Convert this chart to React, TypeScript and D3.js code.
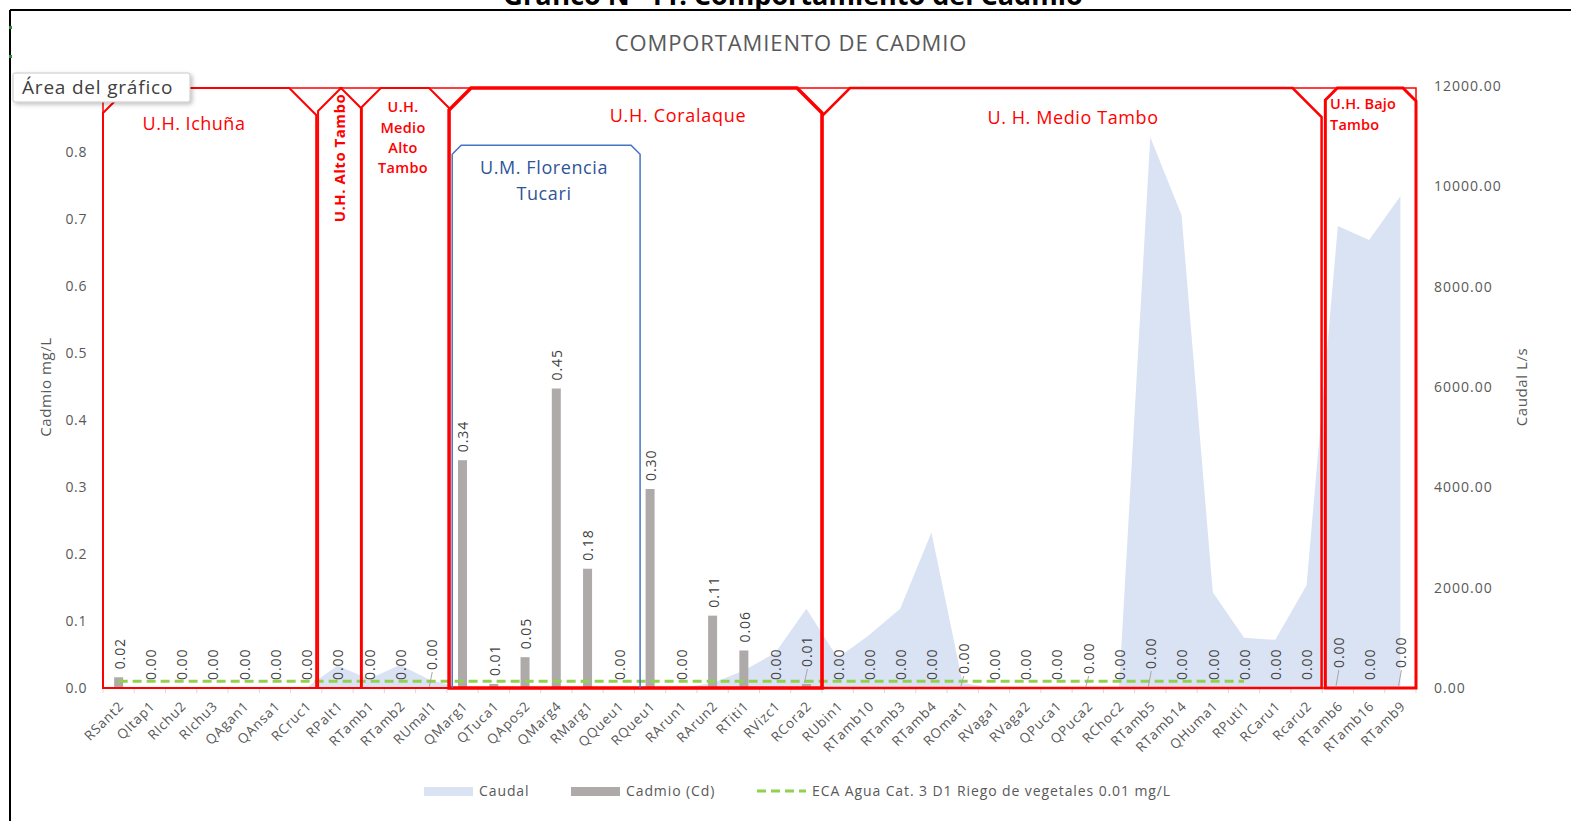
import React from "react";
import * as d3 from "d3";

const categories = ["RSant2","QItap1","RIchu2","RIchu3","QAgan1","QAnsa1","RCruc1","RPalt1","RTamb1","RTamb2","RUmal1","QMarg1","QTuca1","QApos2","QMarg4","RMarg1","QQueu1","RQueu1","RArun1","RArun2","RTiti1","RVizc1","RCora2","RUbin1","RTamb10","RTamb3","RTamb4","ROmat1","RVaga1","RVaga2","QPuca1","QPuca2","RChoc2","RTamb5","RTamb14","QHuma1","RPuti1","RCaru1","Rcaru2","RTamb6","RTamb16","RTamb9"];

const cadmio = [0.016,0,0,0,0,0,0,0,0,0,0,0.34,0.006,0.046,0.447,0.178,0,0.297,0,0.108,0.056,0,0.006,0,0,0,0,0,0,0,0,0,0,0,0,0,0,0,0,0,0,0];

const caudal = [0,0,0,0,0,0,0,450,180,460,150,0,0,0,0,0,0,0,0,100,350,700,1580,600,1050,1580,3100,100,0,0,0,0,0,10980,9430,1910,1000,960,2050,9210,8930,9800];

// ECA limit defined for the first 37 stations (RSant2 .. RPuti1)
const eca = [0.01,0.01,0.01,0.01,0.01,0.01,0.01,0.01,0.01,0.01,0.01,0.01,0.01,0.01,0.01,0.01,0.01,0.01,0.01,0.01,0.01,0.01,0.01,0.01,0.01,0.01,0.01,0.01,0.01,0.01,0.01,0.01,0.01,0.01,0.01,0.01,0.01];

// the 0.9 label is hidden behind the tooltip in the original
const leftTicks = [0, 0.1, 0.2, 0.3, 0.4, 0.5, 0.6, 0.7, 0.8];
const rightTicks = [0, 2000, 4000, 6000, 8000, 10000, 12000];

// raised data labels (manually moved in the original), px
const labelLift: Record<number, number> = { 10: 10, 22: 9, 27: 6, 31: 6, 33: 11, 39: 12, 41: 12 };

// annotation boxes in category units
const regions = [
  { x0: 0, x1: 6.82, s0: 25, s1: 27, sw: 2 },
  { x0: 6.88, x1: 8.25, s0: 23, s1: 20, sw: 2 },
  { x0: 8.28, x1: 11.07, s0: 19, s1: 20, sw: 2 },
  { x0: 11.07, x1: 23.0, s0: 22, s1: 25, sw: 3.5 },
  { x0: 23.0, x1: 38.98, s0: 28, s1: 29, sw: 2.5 },
  { x0: 39.1, x1: 42.0, s0: 12, s1: 13, sw: 3 },
];

const W = 1571, H = 821;
const PL = 103, PR = 1416, PT = 86, PB = 688;
const FONT = "'Open Sans', 'Noto Sans', sans-serif";
const GRAY = "#595959";

export default function App() {
  const x = d3.scaleBand<string>().domain(categories).range([PL, PR]).padding(0);
  const bw = x.bandwidth();
  const cx = (i: number) => (x(categories[i]) as number) + bw / 2;
  const xu = d3.scaleLinear().domain([0, categories.length]).range([PL, PR]);
  const yL = d3.scaleLinear().domain([0, 0.9]).range([PB, PT - 1]);
  const yR = d3.scaleLinear().domain([0, 12000]).range([PB, PT]);

  const area = d3.area<number>().x((_, i) => cx(i)).y0(PB).y1((d) => yR(d));
  const line = d3.line<number>().x((_, i) => cx(i)).y((d) => yL(d));
  const barW = 9;

  const snipPath = (r: typeof regions[0]) => {
    const a = xu(r.x0), b = xu(r.x1), t = 88, bo = PB;
    return `M${a},${bo} L${a},${t + r.s0} L${a + r.s0},${t} L${b - r.s1},${t} L${b},${t + r.s1} L${b},${bo} Z`;
  };

  const fx0 = xu(11.17), fx1 = xu(17.18), fy = yL(0.81), fs = 9;

  return (
    <div style={{ position: "absolute", left: 0, top: 0, width: W, height: H, background: "#fff" }}>
      <svg width={W} height={H} style={{ display: "block" }}>
        <rect x={0} y={0} width={W} height={H} fill="#fff" />
        {/* page title, cut off at top */}
        <text x={793} y={5} textAnchor="middle" fontFamily={FONT} fontWeight={700} fontSize={27} fill="#000">Gráfico N° 11: Comportamiento del Cadmio</text>
        <line x1={10} y1={10} x2={W} y2={10} stroke="#000" strokeWidth={2} />
        <line x1={10} y1={10} x2={10} y2={H} stroke="#000" strokeWidth={2} />
        <rect x={9} y={26} width={3} height={3} fill="#2e8b3e" />
        <rect x={9} y={55} width={3} height={3} fill="#2e8b3e" />

        {/* chart title */}
        <text x={791} y={51} textAnchor="middle" fontFamily={FONT} fontSize={22} letterSpacing={0.9} fill={GRAY}>COMPORTAMIENTO DE CADMIO</text>

        {/* caudal area */}
        <path d={area(caudal) as string} fill="#dae3f3" />

        {/* x axis line and ticks */}
        <line x1={PL} y1={PB} x2={PR} y2={PB} stroke="#d9d9d9" strokeWidth={1} />
        {d3.range(categories.length + 1).map((i) => (
          <line key={i} x1={xu(i)} x2={xu(i)} y1={PB} y2={PB + 5} stroke="#d9d9d9" strokeWidth={1} />
        ))}

        {/* bars */}
        {cadmio.map((v, i) => (
          <rect key={i} x={cx(i) - barW / 2} y={yL(v)} width={barW} height={PB - yL(v)} fill="#aeaaaa" />
        ))}

        {/* ECA line */}
        <path d={line(eca) as string} fill="none" stroke="#92d050" strokeWidth={3} strokeDasharray="9,5" />

        {/* left axis */}
        {leftTicks.map((t) => (
          <text key={t} x={87} y={yL(t)} dy="0.35em" textAnchor="end" fontFamily={FONT} fontSize={14} letterSpacing={0.6} fill={GRAY}>{t.toFixed(1)}</text>
        ))}
        <text transform={`translate(51,${(PT + PB) / 2}) rotate(-90)`} textAnchor="middle" fontFamily={FONT} fontSize={15} letterSpacing={0.6} fill={GRAY}>Cadmio mg/L</text>

        {/* right axis */}
        {rightTicks.map((t) => (
          <text key={t} x={1434} y={yR(t)} dy="0.35em" textAnchor="start" fontFamily={FONT} fontSize={14} letterSpacing={1} fill={GRAY}>{t.toFixed(2)}</text>
        ))}
        <text transform={`translate(1527,${(PT + PB) / 2}) rotate(-90)`} textAnchor="middle" fontFamily={FONT} fontSize={15} letterSpacing={0.6} fill={GRAY}>Caudal L/s</text>

        {/* x labels */}
        {categories.map((c, i) => (
          <text key={c} transform={`translate(${cx(i) + 6},${PB + 19}) rotate(-45)`} textAnchor="end" fontFamily={FONT} fontSize={13.5} letterSpacing={0.8} fill={GRAY}>{c}</text>
        ))}

        {/* annotation boxes */}
        <rect x={PL} y={88} width={PR - PL} height={PB - 88} fill="none" stroke="#ff0000" strokeWidth={1.5} />
        {regions.map((r, i) => (
          <path key={i} d={snipPath(r)} fill="none" stroke="#ff0000" strokeWidth={r.sw} />
        ))}
        <path d={`M${fx0},${PB} L${fx0},${fy + fs} L${fx0 + fs},${fy} L${fx1 - fs},${fy} L${fx1},${fy + fs} L${fx1},${PB}`} fill="none" stroke="#4472c4" strokeWidth={1.5} />

        {/* data labels */}
        {cadmio.map((v, i) => {
          const lift = labelLift[i] || 0;
          const yb = yL(v) - 8 - lift;
          return (
            <g key={i}>
              {lift > 0 && <line x1={cx(i) - 2} y1={yL(v) - 1} x2={cx(i) + 1} y2={yb + 2} stroke="#a6a6a6" strokeWidth={1} />}
              <text transform={`translate(${cx(i) + 1},${yb}) rotate(-90)`} dy="0.35em" textAnchor="start" fontFamily={FONT} fontSize={14} letterSpacing={0.9} fill="#404040">{v.toFixed(2)}</text>
            </g>
          );
        })}

        {/* region labels */}
        <g fontFamily={FONT} fill="#ff0000">
          <text x={194} y={130} textAnchor="middle" fontSize={18} letterSpacing={0.5}>U.H. Ichuña</text>
          <text transform="translate(340,158) rotate(-90)" dy="0.35em" textAnchor="middle" fontSize={15} letterSpacing={0.5} fontWeight={700}>U.H. Alto Tambo</text>
          <text x={403} y={112} textAnchor="middle" fontSize={14.5} letterSpacing={0.3} fontWeight={600}>U.H.</text>
          <text x={403} y={133} textAnchor="middle" fontSize={14.5} letterSpacing={0.3} fontWeight={600}>Medio</text>
          <text x={403} y={153} textAnchor="middle" fontSize={14.5} letterSpacing={0.3} fontWeight={600}>Alto</text>
          <text x={403} y={173} textAnchor="middle" fontSize={14.5} letterSpacing={0.3} fontWeight={600}>Tambo</text>
          <text x={678} y={122} textAnchor="middle" fontSize={18} letterSpacing={0.7}>U.H. Coralaque</text>
          <text x={1073} y={124} textAnchor="middle" fontSize={18} letterSpacing={0.6}>U. H. Medio Tambo</text>
          <text x={1330} y={109} textAnchor="start" fontSize={14.5} letterSpacing={0.2} fontWeight={600}>U.H. Bajo</text>
          <text x={1330} y={130} textAnchor="start" fontSize={14.5} letterSpacing={0.2} fontWeight={600}>Tambo</text>
        </g>
        <g fontFamily={FONT} fill="#2f5597" fontSize={18} letterSpacing={0.6} textAnchor="middle">
          <text x={544} y={174}>U.M. Florencia</text>
          <text x={544} y={200}>Tucari</text>
        </g>

        {/* legend */}
        <g fontFamily={FONT} fontSize={14} letterSpacing={0.9} fill={GRAY}>
          <rect x={424} y={787} width={49} height={9} fill="#dae3f3" />
          <text x={479} y={791} dy="0.35em">Caudal</text>
          <rect x={571} y={787} width={49} height={9} fill="#aeaaaa" />
          <text x={626} y={791} dy="0.35em">Cadmio (Cd)</text>
          <line x1={757} y1={791} x2={806} y2={791} stroke="#92d050" strokeWidth={3} strokeDasharray="9,5" />
          <text x={812} y={791} dy="0.35em">ECA Agua Cat. 3 D1 Riego de vegetales 0.01 mg/L</text>
        </g>

        {/* tooltip */}
        <defs>
          <filter id="sh" x="-10%" y="-20%" width="130%" height="160%">
            <feDropShadow dx="2" dy="2" stdDeviation="2" floodColor="#000" floodOpacity="0.25" />
          </filter>
        </defs>
        <rect x={13} y={73} width={177} height={29} rx={2} fill="#fff" stroke="#c8c8c8" strokeWidth={1} filter="url(#sh)" />
        <text x={22} y={94} fontFamily={FONT} fontSize={19} letterSpacing={0.8} fill="#404040">Área del gráfico</text>
      </svg>
    </div>
  );
}
